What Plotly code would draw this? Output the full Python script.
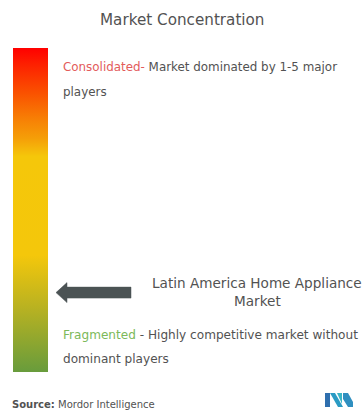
import plotly.graph_objects as go

# ---- content ----
title_text = "Market Concentration"
consolidated_label = "Consolidated-"
consolidated_desc = " Market dominated by 1-5 major"
consolidated_desc2 = "players"
fragmented_label = "Fragmented"
fragmented_desc = " - Highly competitive market without"
fragmented_desc2 = "dominant players"
market_name = ["Latin America Home Appliance", "Market"]
source_label = "Source:"
source_name = "Mordor Intelligence"

# concentration scale: 0 = fragmented, 1 = consolidated
market_level = 0.245

# gradient of the concentration bar (level, colour)
scale_levels = [0.0, 0.2, 0.36, 0.665, 0.69, 0.72, 0.78, 0.86, 0.95, 1.0]
scale_colors = ["#689c3c", "#b9b221", "#f4c70b", "#f5c70a", "#f5b50a",
                "#f59f08", "#f78005", "#fa5200", "#fd2000", "#ff0000"]

W, H = 362, 410
BAR_TOP, BAR_BOTTOM = 48, 372
BAR_LEFT, BAR_W = 13, 35


def py(p):
    """pixel row -> paper y"""
    return 1 - p / H


def px(p):
    return p / W


fig = go.Figure()

# gradient bar drawn as a colour bar
fig.add_trace(go.Scatter(
    x=[None], y=[None], mode="markers", hoverinfo="skip", showlegend=False,
    marker=dict(
        color=[0], cmin=0, cmax=1,
        colorscale=[[l, c] for l, c in zip(scale_levels, scale_colors)],
        showscale=True,
        colorbar=dict(
            x=px(BAR_LEFT), xanchor="left", xref="paper",
            y=py(BAR_TOP), yanchor="top", yref="paper",
            lenmode="pixels", len=BAR_BOTTOM - BAR_TOP,
            thicknessmode="pixels", thickness=BAR_W,
            xpad=0, ypad=0, outlinewidth=0, borderwidth=0,
            showticklabels=False, ticks="",
        ),
    ),
))

# arrow pointing at the market's position on the scale
unit = 1.0 / (BAR_BOTTOM - BAR_TOP)
tip_x, head_x, tail_x = 56, 67, 131
head_h, shaft_h = 10 * unit, 5.5 * unit
y0 = market_level
arrow_path = (
    f"M {tip_x},{y0} L {head_x},{y0 + head_h} L {head_x},{y0 + shaft_h} "
    f"L {tail_x},{y0 + shaft_h} L {tail_x},{y0 - shaft_h} L {head_x},{y0 - shaft_h} "
    f"L {head_x},{y0 - head_h} Z"
)
fig.add_shape(type="path", path=arrow_path, xref="x", yref="y",
              fillcolor="#4b5354", line=dict(color="#4b5354", width=0.5))

FONT = "DejaVu Sans"
GREY = "#525252"


def note(text, x, y, size, color=GREY, xanchor="left"):
    fig.add_annotation(text=text, x=x, y=y, xref="paper", yref="paper",
                       xanchor=xanchor, yanchor="middle", showarrow=False,
                       font=dict(family=FONT, size=size, color=color))


note(title_text, px(182), py(20), 15.2, xanchor="center")
note(f"<span style='color:#e35b5b'>{consolidated_label}</span>{consolidated_desc}",
     px(61), py(67), 11.9)
note(consolidated_desc2, px(61), py(92), 11.9)
note(market_name[0], px(257), py(283), 13.6, xanchor="center")
note(market_name[1], px(257), py(301), 13.6, xanchor="center")
note(f"<span style='color:#7cb95a'>{fragmented_label}</span>{fragmented_desc}",
     px(61), py(335), 12.1)
note(fragmented_desc2, px(61), py(359), 12.1)
note(f"<b>{source_label}</b> {source_name}", px(10), py(404), 10)

# brand mark in the bottom-right corner
logo = [
    ("M 325,393 L 330,393 L 330,407 L 325,407 Z", "#2f6fae"),
    ("M 330,393 L 335,393 L 343,407 L 338,407 Z", "#2a9bc4"),
    ("M 337,393 L 342,393 L 342,404 Z", "#3bb6c6"),
    ("M 343,393 L 348,393 L 353,402 L 353,407 L 348,407 L 343,399 Z", "#2f8fc0"),
]
for path, col in logo:
    pts = path.replace("M ", "").replace("L ", "").replace(" Z", "").split(" ")
    conv = []
    for p in pts:
        a, b = p.split(",")
        conv.append(f"{px(float(a)):.5f},{py(float(b)):.5f}")
    fig.add_shape(type="path", path="M " + " L ".join(conv) + " Z",
                  xref="paper", yref="paper", fillcolor=col, line=dict(width=0))

fig.update_layout(
    width=W, height=H, margin=dict(l=0, r=0, t=0, b=0),
    paper_bgcolor="white", plot_bgcolor="white", showlegend=False,
    xaxis=dict(range=[0, W], domain=[0, 1], visible=False, fixedrange=True),
    yaxis=dict(range=[0, 1], domain=[py(BAR_BOTTOM), py(BAR_TOP)],
               visible=False, fixedrange=True),
)

fig.write_html("out.html")
